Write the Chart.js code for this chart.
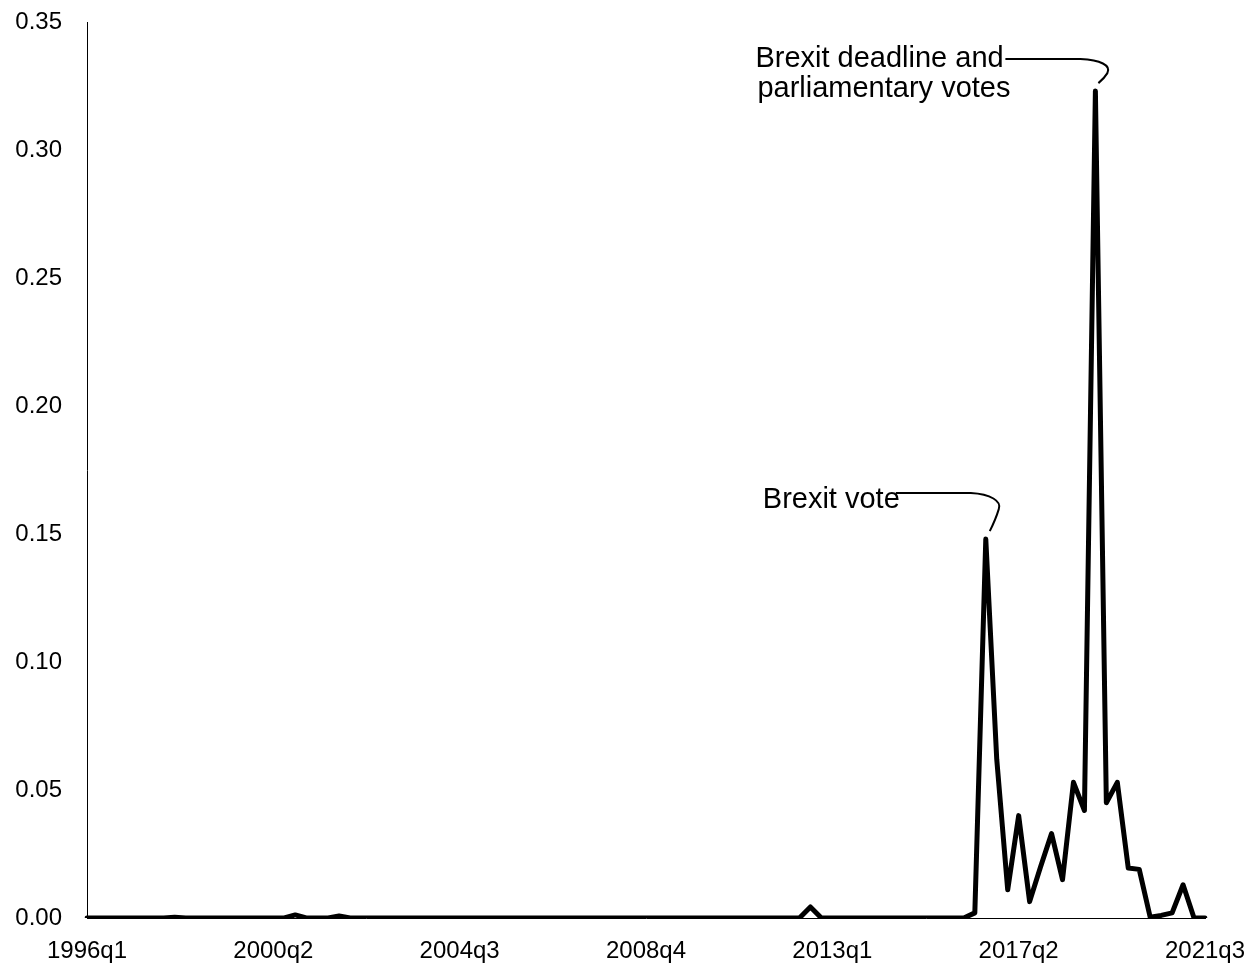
<!DOCTYPE html>
<html>
<head>
<meta charset="utf-8">
<script src="https://cdn.jsdelivr.net/npm/chart.js@4/dist/chart.umd.min.js"></script>
<style>
  html, body { margin: 0; padding: 0; background: #fff; }
  #wrap { width: 1257px; height: 965px; position: relative; }
</style>
</head>
<body>
<div id="wrap"><canvas id="c" width="1257" height="965"></canvas></div>
<script>
// Categories: quarters 1996q1 .. 2021q3
const startYear = 1996;
const nQuarters = 103;
const categories = [];
for (let i = 0; i < nQuarters; i++) {
  categories.push((startYear + Math.floor(i / 4)) + 'q' + (i % 4 + 1));
}

// Series values
const uncertainty = [
  0, 0, 0, 0, 0, 0, 0, 0, 0.0003, 0,            // 1996q1 - 1998q2
  0, 0, 0, 0, 0, 0, 0, 0, 0, 0.0012,            // 1998q3 - 2000q4
  0, 0, 0, 0.0008, 0, 0, 0, 0, 0, 0,            // 2001q1 - 2003q2
  0, 0, 0, 0, 0, 0, 0, 0, 0, 0,                 // 2003q3 - 2005q4
  0, 0, 0, 0, 0, 0, 0, 0, 0, 0,                 // 2006q1 - 2008q2
  0, 0, 0, 0, 0, 0, 0, 0, 0, 0,                 // 2008q3 - 2010q4
  0, 0, 0, 0, 0, 0, 0.0043, 0, 0, 0,            // 2011q1 - 2013q2
  0, 0, 0, 0, 0, 0, 0, 0, 0, 0,                 // 2013q3 - 2015q4
  0, 0.002, 0.148, 0.062, 0.011, 0.040, 0.0064, 0.020, 0.033, 0.015, // 2016q1 - 2018q2
  0.053, 0.042, 0.323, 0.045, 0.053, 0.0195, 0.019, 0.0003, 0.001, 0.002, // 2018q3 - 2020q4
  0.013, 0, 0                                   // 2021q1 - 2021q3
];

// Tick labels shown every 17 quarters
const tickLabels = ['1996q1', '2000q2', '2004q3', '2008q4', '2013q1', '2017q2', '2021q3'];

// Annotations
const annotationTexts = [
  { idx: 82, lines: ['Brexit vote'] },
  { idx: 92, lines: ['Brexit deadline and', 'parliamentary votes'] }
];

const FONT = '"Liberation Sans", Arial, sans-serif';

const annotPlugin = {
  id: 'annot',
  afterDatasetsDraw(chart) {
    const ctx = chart.ctx;
    const xs = chart.scales.x, ys = chart.scales.y;
    ctx.save();
    ctx.fillStyle = '#000';
    ctx.strokeStyle = '#000';
    ctx.font = '29px ' + FONT;
    ctx.textBaseline = 'alphabetic';
    ctx.textAlign = 'left';
    // Brexit vote
    {
      const a = annotationTexts[0];
      const px = xs.getPixelForValue(a.idx), py = ys.getPixelForValue(uncertainty[a.idx]);
      ctx.fillText(a.lines[0], px - 223, py - 31);
      ctx.lineWidth = 2;
      ctx.beginPath();
      ctx.moveTo(px - 90, py - 46);
      ctx.lineTo(px - 15, py - 46);
      ctx.bezierCurveTo(px + 5, py - 45, px + 16, py - 38, px + 13, py - 30);
      ctx.quadraticCurveTo(px + 10, py - 20, px + 4, py - 8);
      ctx.stroke();
    }
    // Brexit deadline
    {
      const a = annotationTexts[1];
      const px = xs.getPixelForValue(a.idx), py = ys.getPixelForValue(uncertainty[a.idx]);
      ctx.fillText(a.lines[0], px - 340, py - 24);
      ctx.fillText(a.lines[1], px - 338, py + 6);
      ctx.lineWidth = 2;
      ctx.beginPath();
      ctx.moveTo(px - 90, py - 32);
      ctx.lineTo(px - 15, py - 32);
      ctx.bezierCurveTo(px + 5, py - 31, px + 16, py - 26, px + 12, py - 18);
      ctx.quadraticCurveTo(px + 9, py - 13, px + 3, py - 8);
      ctx.stroke();
    }
    ctx.restore();
  }
};

new Chart(document.getElementById('c'), {
  type: 'line',
  data: {
    labels: categories,
    datasets: [{
      data: uncertainty,
      borderColor: '#000',
      borderWidth: 5,
      borderJoinStyle: 'round',
      borderCapStyle: 'round',
      pointRadius: 0,
      tension: 0,
      fill: false
    }]
  },
  options: {
    responsive: false,
    animation: false,
    layout: { autoPadding: false, padding: { top: 22, right: 52, left: 0, bottom: 0 } },
    plugins: { legend: { display: false }, tooltip: { enabled: false } },
    scales: {
      x: {
        type: 'category',
        offset: false,
        grid: { display: false, drawTicks: false },
        border: { display: true, color: '#000', width: 1 },
        afterFit(s) { s.height = 47; s.paddingLeft = 0; s.paddingRight = 0; },
        ticks: {
          autoSkip: false,
          maxRotation: 0,
          minRotation: 0,
          padding: 19,
          color: '#000',
          font: { family: FONT, size: 24 },
          callback(v, i) {
            const lab = categories[i];
            return tickLabels.includes(lab) ? lab : null;
          }
        }
      },
      y: {
        min: 0,
        max: 0.35,
        grid: { display: false, drawTicks: false },
        border: { display: true, color: '#000', width: 1 },
        afterFit(s) { s.width = 87; s.paddingTop = 0; s.paddingBottom = 0; },
        ticks: {
          stepSize: 0.05,
          padding: 25,
          color: '#000',
          font: { family: FONT, size: 24 },
          callback(v) { return Number(v).toFixed(2); }
        }
      }
    }
  },
  plugins: [annotPlugin]
});
</script>
</body>
</html>
